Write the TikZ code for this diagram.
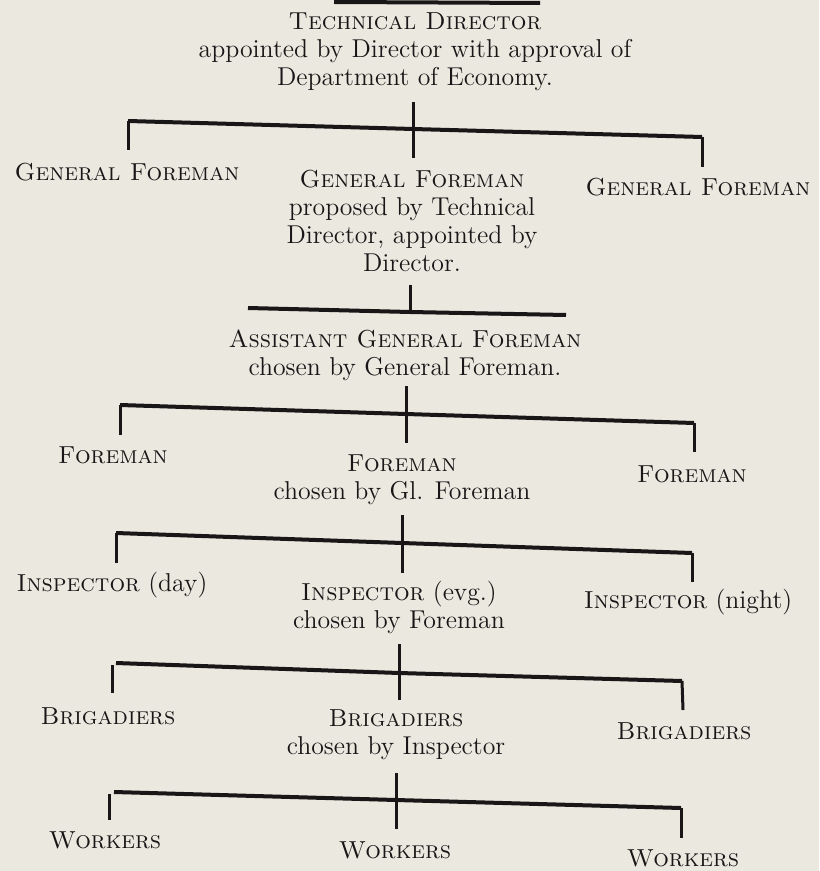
\documentclass[tikz,border=0pt]{standalone}
\usepackage{fontspec}
\newcommand{\capsx}[1]{{\fontsize{12.3}{14}\selectfont\textsc{#1}}}
\begin{document}
\begin{tikzpicture}[x=0.5pt,y=-0.5pt,
  lbl/.style={inner sep=0pt,align=center,text=ink,font=\fontsize{12.9}{14}\selectfont},
  hbar/.style={draw=ink,line width=2pt},
  vbar/.style={draw=ink,line width=1.5pt}]
\definecolor{paper}{RGB}{235,232,224}
\definecolor{ink}{RGB}{24,22,22}
\fill[paper] (0,0) rectangle (819,871);
\useasboundingbox (0,0) rectangle (819,871);
% fragment of a line from the chart above
\coordinate (t0a) at (334,2); \coordinate (t0b) at (540,3);
\draw[hbar] (t0a) -- (t0b);
% nodes
\node[lbl] (td) at (415,52) {\capsx{Technical Director}\\appointed by Director with approval of\\Department of Economy.};
\node[lbl] (gf1) at (127,172) {\capsx{General Foreman}};
\node[lbl] (gf2) at (412,221) {\capsx{General Foreman}\\proposed by Technical\\Director, appointed by\\Director.};
\node[lbl] (gf3) at (698,187) {\capsx{General Foreman}};
\node[lbl] (agf) at (405,355) {\capsx{Assistant General Foreman}\\chosen by General Foreman.};
\node[lbl] (f1) at (113,455) {\capsx{Foreman}};
\node[lbl] (f2) at (402,480) {\capsx{Foreman}\\chosen by Gl. Foreman};
\node[lbl] (f3) at (692,474) {\capsx{Foreman}};
\node[lbl] (i1) at (112,585) {\capsx{Inspector} (day)};
\node[lbl] (i2) at (399,607) {\capsx{Inspector} (evg.)\\chosen by Foreman};
\node[lbl] (i3) at (688,602) {\capsx{Inspector} (night)};
\node[lbl] (b1) at (108,716) {\capsx{Brigadiers}};
\node[lbl] (b2) at (396,735) {\capsx{Brigadiers}\\chosen by Inspector};
\node[lbl] (b3) at (684,731) {\capsx{Brigadiers}};
\node[lbl] (w1) at (105,840) {\capsx{Workers}};
\node[lbl] (w2) at (395,850) {\capsx{Workers}};
\node[lbl] (w3) at (683,858) {\capsx{Workers}};
% bracket 1
\coordinate (s1t) at (413,102); \coordinate (s1c) at (413,129); \coordinate (s1b) at (413,158);
\coordinate (l1) at (128,121); \coordinate (l1b) at (128,150);
\coordinate (r1) at (702,137); \coordinate (r1b) at (702,167);
\draw[hbar] (l1) -- (s1c) -- (r1);
\draw[vbar] (s1t) -- (s1c) -- (s1b);
\draw[vbar] (l1) -- (l1b);
\draw[vbar] (r1) -- (r1b);
% bracket 2
\coordinate (s2t) at (410,285); \coordinate (s2c) at (410,312);
\coordinate (l2) at (248,308); \coordinate (r2) at (566,315);
\draw[hbar] (l2) -- (s2c) -- (r2);
\draw[vbar] (s2t) -- (s2c);
% bracket 3
\coordinate (s3t) at (406,386); \coordinate (s3c) at (406,414); \coordinate (s3b) at (406,443);
\coordinate (l3) at (120,405); \coordinate (l3b) at (120,435);
\coordinate (r3) at (694,423); \coordinate (r3b) at (694,452);
\draw[hbar] (l3) -- (s3c) -- (r3);
\draw[vbar] (s3t) -- (s3c) -- (s3b);
\draw[vbar] (l3) -- (l3b);
\draw[vbar] (r3) -- (r3b);
% bracket 4
\coordinate (s4t) at (402,515); \coordinate (s4c) at (402,543); \coordinate (s4b) at (402,573);
\coordinate (l4) at (116,533); \coordinate (l4b) at (116,563);
\coordinate (r4) at (692,553); \coordinate (r4b) at (692,582);
\draw[hbar] (l4) -- (s4c) -- (r4);
\draw[vbar] (s4t) -- (s4c) -- (s4b);
\draw[vbar] (l4) -- (l4b);
\draw[vbar] (r4) -- (r4b);
% bracket 5
\coordinate (s5t) at (399,644); \coordinate (s5c) at (399,673); \coordinate (s5b) at (399,700);
\coordinate (l5) at (116,663); \coordinate (l5a) at (112,665); \coordinate (l5b) at (112,693);
\coordinate (r5) at (682,681); \coordinate (r5b) at (683,710);
\draw[hbar] (l5) -- (s5c) -- (r5);
\draw[vbar] (s5t) -- (s5c) -- (s5b);
\draw[vbar] (l5a) -- (l5b);
\draw[vbar] (r5) -- (r5b);
% bracket 6
\coordinate (s6t) at (396,773); \coordinate (s6c) at (396,800); \coordinate (s6b) at (396,829);
\coordinate (l6) at (114,792); \coordinate (l6a) at (109,794); \coordinate (l6b) at (109,820);
\coordinate (r6) at (681,808); \coordinate (r6b) at (681,838);
\draw[hbar] (l6) -- (s6c) -- (r6);
\draw[vbar] (s6t) -- (s6c) -- (s6b);
\draw[vbar] (l6a) -- (l6b);
\draw[vbar] (r6) -- (r6b);
\end{tikzpicture}
\end{document}
